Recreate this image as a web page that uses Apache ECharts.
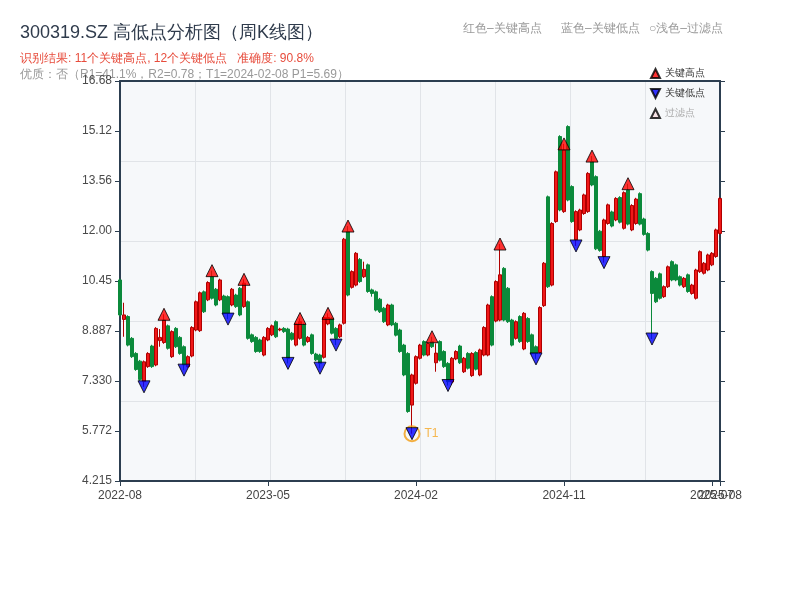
<!DOCTYPE html>
<html><head><meta charset="utf-8">
<script src="https://cdn.jsdelivr.net/npm/echarts/dist/echarts.min.js"></script>
<style>html,body{margin:0;padding:0;background:#fff}#main{width:800px;height:600px}</style>
</head><body><div id="main"></div>
<script>
const dates = ['2022-08-26','2022-09-02','2022-09-09','2022-09-16','2022-09-23','2022-09-30','2022-10-14','2022-10-21','2022-10-28','2022-11-04','2022-11-11','2022-11-18','2022-11-25','2022-12-02','2022-12-09','2022-12-16','2022-12-23','2022-12-30',
'2023-01-06','2023-01-13','2023-01-20','2023-02-03','2023-02-10','2023-02-17','2023-02-24','2023-03-03','2023-03-10','2023-03-17','2023-03-24','2023-03-31','2023-04-07','2023-04-14','2023-04-21','2023-04-28','2023-05-05','2023-05-12','2023-05-19','2023-05-26','2023-06-02','2023-06-09','2023-06-16','2023-06-21','2023-06-30','2023-07-07','2023-07-14','2023-07-21','2023-07-28','2023-08-04','2023-08-11','2023-08-18','2023-08-25','2023-09-01','2023-09-08','2023-09-15','2023-09-22','2023-09-28','2023-10-13','2023-10-20','2023-10-27','2023-11-03','2023-11-10','2023-11-17','2023-11-24','2023-12-01','2023-12-08','2023-12-15','2023-12-22','2023-12-29',
'2024-01-05','2024-01-12','2024-01-19','2024-01-26','2024-02-02','2024-02-08','2024-02-23','2024-03-01','2024-03-08','2024-03-15','2024-03-22','2024-03-29','2024-04-03','2024-04-12','2024-04-19','2024-04-26','2024-04-30','2024-05-10','2024-05-17','2024-05-24','2024-05-31','2024-06-07','2024-06-14','2024-06-21','2024-06-28','2024-07-05','2024-07-12','2024-07-19','2024-07-26','2024-08-02','2024-08-09','2024-08-16','2024-08-23','2024-08-30','2024-09-06','2024-09-13','2024-09-20','2024-09-27','2024-09-30','2024-10-11','2024-10-18','2024-10-25','2024-11-01','2024-11-08','2024-11-15','2024-11-22','2024-11-29','2024-12-06','2024-12-13','2024-12-20','2024-12-27',
'2025-01-03','2025-01-10','2025-01-17','2025-01-24','2025-01-27','2025-02-07','2025-02-14','2025-02-21','2025-02-28','2025-03-07','2025-03-14','2025-03-21','2025-03-28','2025-04-03','2025-04-11','2025-04-18','2025-04-25','2025-04-30','2025-05-09','2025-05-16','2025-05-23','2025-05-30','2025-06-06','2025-06-13','2025-06-20','2025-06-27','2025-07-04','2025-07-11','2025-07-18','2025-07-25','2025-08-01','2025-08-08'];

const openP = [10.48,9.25,9.34,8.66,8.19,7.95,7.31,7.78,8.42,7.83,
8.59,8.53,9.05,8.09,8.97,8.69,8.40,7.78,8.11,8.92,
8.90,10.11,9.86,10.58,10.19,9.86,9.98,9.96,9.70,10.01,
10.22,9.65,9.80,8.77,8.69,8.61,8.14,8.61,8.77,9.18,
8.92,8.97,8.95,8.82,8.45,8.66,9.08,8.56,8.77,8.17,
8.14,8.07,9.11,9.28,8.97,8.71,9.13,11.99,10.25,10.32,
11.12,10.58,10.95,10.17,10.11,9.88,9.60,9.08,9.70,9.13,
8.92,8.45,8.19,6.58,7.26,8.04,8.56,8.14,8.56,7.90,
8.56,8.25,7.88,7.30,8.02,8.42,7.62,8.19,7.50,8.22,
7.52,8.14,8.14,9.96,9.20,9.23,10.84,10.22,9.23,8.66,
9.34,8.33,9.28,8.77,8.40,8.22,9.68,13.07,10.32,12.30,
14.95,12.61,15.26,13.39,11.73,12.04,12.55,12.61,14.17,13.70,
12.00,11.21,12.24,12.60,12.35,13.05,12.09,13.28,12.04,12.24,
13.17,12.38,11.93,10.74,10.53,10.67,9.96,10.27,11.05,10.95,
10.58,10.27,10.64,10.06,9.91,10.74,10.69,10.79,10.95,11.21,
11.93];
const closeP = [9.39,9.39,8.45,8.09,7.69,7.38,7.93,8.19,7.78,8.97,
8.69,9.23,8.35,8.87,8.40,8.19,7.83,8.09,9.00,9.80,
10.08,9.49,10.40,9.91,9.70,10.48,9.44,9.44,10.19,9.65,
9.39,10.38,8.66,8.56,8.25,8.25,8.69,8.97,9.05,8.71,
8.95,8.87,8.04,8.63,9.11,9.18,8.45,8.69,8.19,7.99,
7.88,9.31,9.31,8.82,8.66,9.08,11.75,10.01,10.74,11.31,
10.43,10.81,10.12,10.06,9.54,9.49,9.18,9.70,9.08,8.76,
8.25,7.52,6.38,7.52,8.09,8.45,8.14,8.50,8.40,8.20,
7.98,7.78,7.31,8.04,8.25,7.90,8.04,7.73,8.19,7.70,
8.30,9.00,9.70,8.45,10.43,10.64,9.23,9.18,8.45,9.18,
8.56,9.44,8.56,8.19,8.19,9.62,11.00,10.27,12.24,13.85,
12.66,14.53,12.97,12.30,12.61,12.66,13.13,13.80,13.44,11.45,
11.40,12.35,12.82,12.16,13.02,12.28,13.20,12.22,12.80,13.00,
12.22,11.90,11.41,10.06,9.80,9.91,10.27,10.89,10.48,10.48,
10.32,10.53,10.12,10.32,10.79,11.36,11.00,11.26,11.31,12.04,
13.02];
const highP = [10.52,9.77,9.38,8.70,8.23,7.99,7.97,8.23,8.46,9.01,
8.95,9.41,9.09,8.91,9.01,8.73,8.44,8.13,9.04,9.84,
10.12,10.15,10.44,10.77,10.23,10.52,10.02,10.00,10.23,10.05,
10.26,10.50,9.84,8.81,8.73,8.65,8.73,9.01,9.09,9.22,
8.99,9.01,8.99,8.86,9.15,9.28,9.12,8.73,8.81,8.21,
8.18,9.35,9.44,9.32,9.01,9.12,11.79,12.16,10.78,11.35,
11.16,11.05,10.99,10.21,10.15,9.92,9.64,9.74,9.74,9.17,
8.96,8.49,8.23,7.56,8.13,8.49,8.60,8.54,8.71,8.50,
8.60,8.29,7.92,8.08,8.29,8.46,8.08,8.23,8.23,8.26,
8.34,9.04,9.74,10.00,10.47,11.60,10.88,10.26,9.27,9.22,
9.38,9.48,9.32,8.81,8.44,9.66,11.04,13.11,12.28,13.89,
14.99,14.72,15.30,13.43,12.65,12.70,13.17,13.84,14.34,13.74,
12.04,12.39,12.86,12.64,13.06,13.09,13.24,13.48,12.84,13.04,
13.21,12.42,11.97,10.78,10.57,10.71,10.31,10.93,11.09,10.99,
10.62,10.57,10.68,10.36,10.83,11.40,11.04,11.30,11.35,12.08,
13.06];
const lowP = [9.35,8.71,8.41,8.05,7.65,7.34,7.15,7.74,7.74,7.79,
8.40,8.49,8.31,8.05,8.36,8.15,7.67,7.74,8.07,8.88,
8.86,9.45,9.82,9.87,9.66,9.82,9.40,9.26,9.66,9.61,
9.35,9.61,8.62,8.52,8.21,8.21,8.10,8.57,8.73,8.67,
8.88,8.83,7.88,8.59,8.41,8.62,8.41,8.52,8.15,7.95,
7.73,8.03,9.07,8.78,8.45,8.67,9.09,9.97,10.21,10.28,
10.39,10.54,10.08,9.96,9.50,9.45,9.14,9.04,9.04,8.72,
8.21,7.48,6.34,5.69,7.22,8.00,8.10,8.10,8.36,7.62,
7.94,7.74,7.19,7.22,7.98,7.86,7.58,7.69,7.46,7.66,
7.48,8.10,8.10,8.41,9.16,9.19,9.19,9.14,8.41,8.62,
8.52,8.29,8.52,8.15,8.02,8.18,9.64,10.23,10.28,12.26,
12.62,12.57,12.93,12.26,11.54,12.00,12.51,12.57,13.40,11.41,
11.36,11.02,12.20,12.12,12.31,12.24,12.05,12.18,12.00,12.20,
12.18,11.86,11.37,8.64,9.76,9.87,9.92,10.23,10.44,10.44,
10.28,10.23,10.08,10.02,9.87,10.70,10.65,10.75,10.91,11.17,
11.89];

const highIdx = [11, 23, 31, 45, 52, 57, 78, 95, 111, 118, 127];
const lowIdx = [6, 16, 27, 42, 50, 54, 73, 82, 104, 114, 121, 133];
const t1Idx = 73;
const xLabelStep = 37;
const yTickLabels = ['4.215','5.772','7.330','8.887','10.45','12.00','13.56','15.12','16.68'];
const yMin = 4.215, yMax = 16.68;
const yStep = (yMax - yMin) / 8;

const AX = '#2c3e50';
const lastIdx = dates.length - 1;
const kData = dates.map((d, i) => [openP[i], closeP[i], lowP[i], highP[i]]);
const highPts = highIdx.map(i => [dates[i], highP[i]]);
const lowPts = lowIdx.map(i => [dates[i], lowP[i]]);
const downTri = 'path://M0,0L10,0L5,10Z';
const stepX = (idx) => idx % xLabelStep === 0 && idx !== lastIdx;
const onlyLast = (idx) => idx === lastIdx;

const chart = echarts.init(document.getElementById('main'));
chart.setOption({
  animation: false,
  backgroundColor: '#ffffff',
  graphic: [
    {type:'text', x:20, y:33, style:{text:'300319.SZ 高低点分析图（周K线图）', fontSize:18, fill:'#2f3b4c', verticalAlign:'middle'}},
    {type:'text', x:20, y:59, style:{text:'识别结果: 11个关键高点, 12个关键低点   准确度: 90.8%', fontSize:12, fill:'#e74c3c', verticalAlign:'middle'}},
    {type:'text', x:20, y:75, style:{text:'优质：否（R1=41.1%，R2=0.78；T1=2024-02-08 P1=5.69）', fontSize:12, fill:'#999999', verticalAlign:'middle'}},
    {type:'text', x:463, y:29, style:{text:'红色–关键高点', fontSize:12, fill:'#999999', verticalAlign:'middle'}},
    {type:'text', x:561, y:29, style:{text:'蓝色–关键低点', fontSize:12, fill:'#999999', verticalAlign:'middle'}},
    {type:'text', x:649, y:29, style:{text:'○浅色–过滤点', fontSize:12, fill:'#999999', verticalAlign:'middle'}}
  ],
  legend: {
    orient: 'vertical', left: 645, top: 63,
    itemWidth: 9, itemHeight: 9, itemGap: 9,
    textStyle: {fontSize: 10, color: '#333'},
    data: ['关键高点', '关键低点', {name: '过滤点', textStyle: {color: '#aaaaaa'}}]
  },
  grid: {left: 120, right: 80, top: 81, bottom: 119, show: true, backgroundColor: '#f6f8fa', borderWidth: 0},
  xAxis: [
    {type: 'category', data: dates, boundaryGap: false,
     axisLine: {lineStyle: {color: AX, width: 2}},
     axisTick: {show: true, interval: stepX, length: 5, lineStyle: {color: AX}},
     axisLabel: {interval: stepX, color: '#444', fontSize: 12, margin: 9, formatter: v => v.slice(0, 7)},
     splitLine: {show: false}},
    {type: 'value', position: 'top', min: 0, max: 8, interval: 1,
     axisLine: {show: true, lineStyle: {color: AX, width: 2}},
     axisTick: {show: false}, axisLabel: {show: false},
     splitLine: {show: true, lineStyle: {color: '#e1e4e8', width: 1}}},
    {type: 'category', data: dates, boundaryGap: false, position: 'bottom',
     axisLine: {show: false},
     axisTick: {show: true, interval: onlyLast, length: 5, lineStyle: {color: AX}},
     axisLabel: {interval: onlyLast, color: '#444', fontSize: 12, margin: 9, formatter: v => v.slice(0, 7)},
     splitLine: {show: false}}
  ],
  yAxis: [
    {type: 'value', min: yMin, max: yMax, interval: yStep, scale: true,
     axisLine: {show: true, lineStyle: {color: AX, width: 2}},
     axisTick: {show: true, length: 5, lineStyle: {color: AX}},
     axisLabel: {color: '#4a4a4a', fontSize: 12, formatter: v => { const k = Math.round((v - yMin) / yStep); return yTickLabels[k] || ''; }},
     splitLine: {show: false}},
    {type: 'value', position: 'right', min: yMin, max: yMax, interval: yStep, scale: true,
     axisLine: {show: true, lineStyle: {color: AX, width: 2}},
     axisTick: {show: true, length: 5, lineStyle: {color: AX}},
     axisLabel: {show: false}, splitLine: {show: false}},
    {type: 'value', position: 'right', min: 0, max: 5, interval: 1,
     axisLine: {show: false}, axisTick: {show: false}, axisLabel: {show: false},
     splitLine: {show: true, lineStyle: {color: '#e1e4e8', width: 1}}}
  ],
  series: [
    {type: 'candlestick', name: 'K线', data: kData, barWidth: 3,
     itemStyle: {color: '#f01818', borderColor: '#b00000', color0: '#0b8a3b', borderColor0: '#0b8a3b', borderWidth: 1}},
    {type: 'scatter', name: 'T1环', data: [[dates[t1Idx], lowP[t1Idx]]], symbol: 'circle', symbolSize: 15, z: 3,
     itemStyle: {color: 'rgba(0,0,0,0)', borderColor: '#f39c12', borderWidth: 2},
     label: {show: true, formatter: 'T1', position: 'right', distance: 4, color: '#f5a623', fontSize: 12}},
    {type: 'scatter', name: '关键高点', data: highPts, symbol: 'triangle', symbolSize: 12, z: 4,
     itemStyle: {color: '#ff0000', borderColor: '#000', borderWidth: 1}},
    {type: 'scatter', name: '关键低点', data: lowPts, symbol: downTri, symbolSize: 12, z: 4,
     itemStyle: {color: '#0000ff', borderColor: '#000', borderWidth: 1}},
    {type: 'scatter', name: '过滤点', data: [], symbol: 'triangle', symbolSize: 10,
     itemStyle: {color: 'rgba(255,170,170,0.3)', borderColor: '#000', borderWidth: 1}},
    {type: 'scatter', name: 'grid-helper', data: [], xAxisIndex: 1, yAxisIndex: 2, silent: true},
    {type: 'scatter', name: 'x-helper', data: [], xAxisIndex: 2, yAxisIndex: 0, silent: true}
  ]
});
</script></body></html>
